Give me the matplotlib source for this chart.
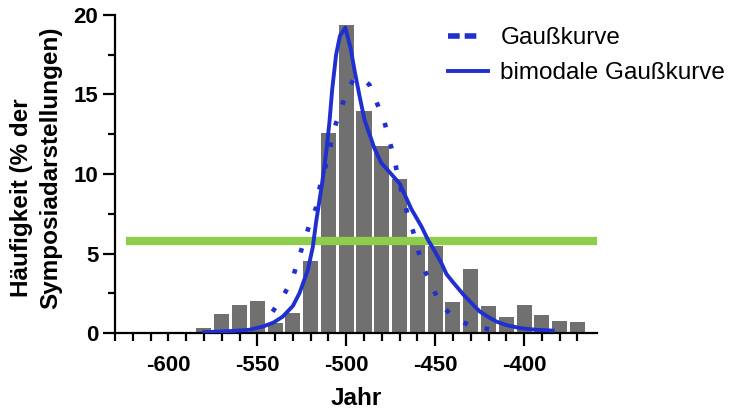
import matplotlib
matplotlib.use('Agg')
import matplotlib.pyplot as plt
from matplotlib.lines import Line2D
from matplotlib.ticker import FixedLocator

plt.rcParams['font.family'] = ['Liberation Sans', 'DejaVu Sans']
plt.rcParams['axes.unicode_minus'] = False

# histogram, 10-year bins
years = [-580, -570, -560, -550, -540, -530, -520, -510, -500, -490, -480,
         -470, -460, -450, -440, -430, -420, -410, -400, -390, -380, -370]
share = [0.34, 1.18, 1.78, 2.0, 0.63, 1.26, 4.5, 12.6, 19.37, 13.96, 11.78,
         9.67, 5.8, 5.45, 1.97, 4.0, 1.7, 1.0, 1.76, 1.15, 0.75, 0.69]

# Gaußkurve
gauss_x = [-541.4, -535.7, -530.4, -527.3, -520.7, -516.9, -515.0, -509.4, -507.5,
           -504.2, -500.5, -496.2, -491.5, -486.9, -482.5, -478.8, -476.0, -473.2,
           -470.9, -468.6, -465.6, -462.4, -459.6, -456.4, -452.0, -447.4, -440.0,
           -430.5, -419.3]
gauss_y = [1.34, 2.28, 3.33, 4.5, 6.8, 7.9, 9.1, 11.4, 12.6,
           13.7, 14.9, 15.9, 16.1, 15.6, 14.4, 13.4, 12.2, 11.1,
           9.8, 8.8, 7.5, 6.4, 5.2, 4.07, 3.0, 1.87, 1.03,
           0.46, 0.23]

# bimodale Gaußkurve
bimod_x = [-580, -565, -554.5, -547, -541, -535.7, -530, -526.3, -521.6, -518.8,
           -516.9, -513.7, -511.3, -509.4, -507.9, -505.7, -503.5, -500.5, -497.5,
           -495.3, -492.5, -489.7, -486.9, -484.1, -480.3, -474.7, -470, -463.4,
           -457.7, -454, -451, -446.5, -443.6, -440, -434, -428, -424.8, -420,
           -415.4, -410, -402, -393, -384]
bimod_y = [0.05, 0.12, 0.2, 0.4, 0.65, 1.03, 1.7, 2.5, 3.96, 5.4,
           7.0, 9.3, 11.3, 13.3, 15.3, 17.5, 18.7, 19.2, 17.9,
           16.5, 14.9, 13.4, 12.5, 11.6, 10.7, 10.0, 9.4, 7.8,
           6.7, 5.85, 5.3, 4.4, 3.7, 3.2, 2.4, 1.7, 1.34, 1.0,
           0.71, 0.5, 0.3, 0.2, 0.15]

threshold = 5.8
threshold_span = (-624, -359)

blue = '#1f2fd0'
green = '#8fcd4c'

fig = plt.figure(figsize=(7.53, 4.11), dpi=100)
ax = fig.add_axes([115 / 753, 1 - 333 / 411, (597 - 115) / 753, (333 - 15) / 411])

ax.bar(years, share, width=8.5, color='#707070', edgecolor='none', zorder=1)
ax.plot(threshold_span, [threshold, threshold], color=green, lw=6, solid_capstyle='butt', zorder=2)
ax.plot(gauss_x, gauss_y, color=blue, lw=3.3, linestyle=(0, (1, 3.8)), zorder=3)
ax.plot(bimod_x, bimod_y, color=blue, lw=2.8, zorder=4)

ax.set_xlim(-630, -359)
ax.set_ylim(0, 20)

for side in ['top', 'right']:
    ax.spines[side].set_visible(False)
for side in ['left', 'bottom']:
    ax.spines[side].set_linewidth(1.6)

ax.set_xticks([-600, -550, -500, -450, -400])
ax.xaxis.set_minor_locator(FixedLocator(list(range(-630, -360, 10))))
ax.set_yticks([0, 5, 10, 15, 20])
ax.yaxis.set_minor_locator(FixedLocator([2.5, 7.5, 12.5, 17.5]))
ax.tick_params(axis='x', which='major', length=9.5, width=1.6, pad=6, labelsize=16)
ax.tick_params(axis='x', which='minor', length=6, width=1.6)
ax.tick_params(axis='y', which='major', length=9, width=1.6, pad=3, labelsize=16)
ax.tick_params(axis='y', which='minor', length=5, width=1.6)
ax.xaxis.get_major_ticks()[0].tick1line.set_markersize(6)
for lab in ax.get_xticklabels() + ax.get_yticklabels():
    lab.set_fontweight('bold')

ax.set_xlabel('Jahr', fontsize=17.5, fontweight='bold', labelpad=8)
fig.text(22 / 753, 1 - 198 / 411, 'Häufigkeit (% der', rotation=90,
         ha='center', va='center', fontsize=17.5, fontweight='bold')
fig.text(51 / 753, 1 - 168 / 411, 'Symposiadarstellungen)', rotation=90,
         ha='center', va='center', fontsize=17.5, fontweight='bold')

handles = [
    Line2D([], [], color=blue, lw=4, linestyle=(0, (2.1, 0.9, 2.1, 10))),
    Line2D([], [], color=blue, lw=2.8),
]
fig.legend(handles, ['Gaußkurve', 'bimodale Gaußkurve'], loc='upper left',
           bbox_to_anchor=(448 / 753, 1 - 27 / 411), frameon=False, fontsize=17.5,
           borderpad=0, borderaxespad=0, handlelength=1.65, handletextpad=0.5,
           labelspacing=0.55)

fig.savefig('out.png', dpi=100)
